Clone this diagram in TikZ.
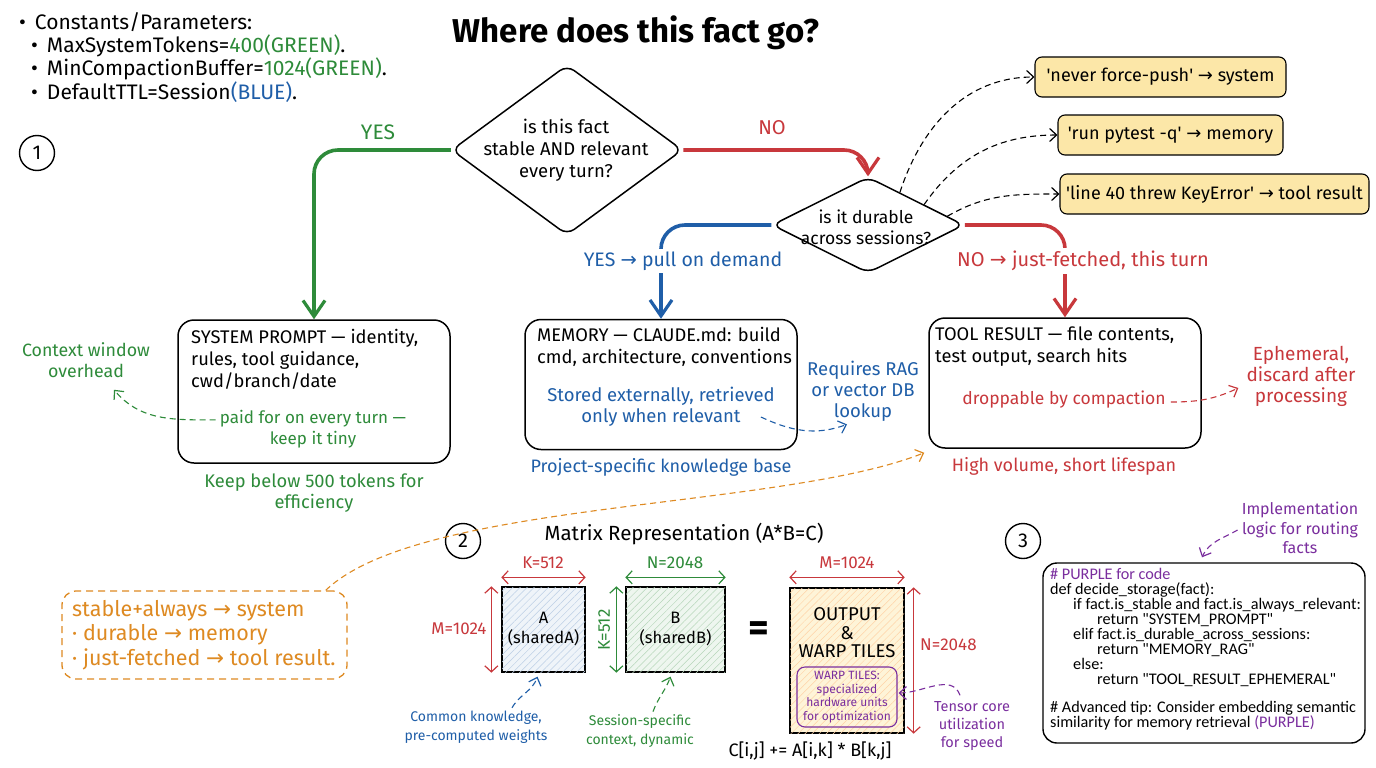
\documentclass[tikz,border=0pt]{standalone}
\usepackage{fontspec}
\setmainfont{Fira Sans}
\newfontfamily\codefont{Carlito}
\newfontfamily\symfont{DejaVu Sans}
\newcommand\rarr{{\symfont\char"2192}}
\newcommand\sq{\textquotesingle}
\usetikzlibrary{shapes.geometric,arrows.meta,patterns.meta,calc}
\definecolor{cgreen}{HTML}{2E8B3A}
\definecolor{cred}{HTML}{C8383C}
\definecolor{cblue}{HTML}{1F5EA8}
\definecolor{corange}{HTML}{DE8A22}
\definecolor{cpurple}{HTML}{7A2E9E}
\definecolor{cyellow}{HTML}{FCE7A8}
\begin{document}
\begin{tikzpicture}[x=1pt,y=-1pt,
  every node/.style={inner sep=0pt},
  txt/.style={align=center, font=\fontsize{17}{21}\selectfont},
  smalltxt/.style={align=center, font=\fontsize{14}{18.5}\selectfont},
  boxtxt/.style={align=left, anchor=north west, font=\fontsize{18.3}{21.8}\selectfont},
  bigbox/.style={draw, line width=1.5pt, rounded corners=16pt, minimum width=272pt, minimum height=130pt},
  ybox/.style={draw, fill=cyellow, line width=1.1pt, rounded corners=7pt, minimum height=40pt, font=\fontsize{18}{20}\selectfont},
  dec/.style={draw, diamond, line width=1.5pt, rounded corners=9pt},
  bigarr/.style={line width=3.6pt, rounded corners=24pt, -{Straight Barb[length=16pt,width=22pt,line width=3.2pt]}},
  dasharr/.style={line width=1.1pt, dash pattern=on 6pt off 4pt, -{Straight Barb[length=7pt,width=13pt,line width=1.2pt]}},
  dimarr/.style={line width=1.2pt, {Straight Barb[length=6pt,width=13pt]}-{Straight Barb[length=6pt,width=13pt]}},
  numc/.style={draw, circle, line width=1.4pt, minimum size=35pt, font=\fontsize{20}{20}\selectfont},
  mat/.style={draw, line width=1.3pt, align=center, font=\fontsize{16.5}{20}\selectfont},
  dimlbl/.style={font=\fontsize{17}{19}\selectfont},
]
\fill[white] (0,0) rectangle (1376,768);
\useasboundingbox (0,0) rectangle (1376,768);

% ---- constants list
\node[anchor=west, font=\fontsize{21}{23}\selectfont] (cbul) at (19,22) {\textbullet\hspace{9pt}Constants/Parameters:};
\node[anchor=west, font=\fontsize{21}{23}\selectfont] (c1) at (31,46) {\textbullet\hspace{9pt}MaxSystemTokens=\textcolor{cgreen}{400(GREEN)}.};
\node[anchor=west, font=\fontsize{21}{23}\selectfont] (c2) at (31,69) {\textbullet\hspace{9pt}MinCompactionBuffer=\textcolor{cgreen}{1024(GREEN)}.};
\node[anchor=west, font=\fontsize{21}{23}\selectfont] (c3) at (31,92) {\textbullet\hspace{9pt}DefaultTTL=Session\textcolor{cblue}{(BLUE)}.};

% ---- title
\node[font=\bfseries\fontsize{33}{36}\selectfont] (title) at (636,33) {Where does this fact go?};

% ---- section numbers
\node[numc] (n1) at (37,153) {1};
\node[numc] (n2) at (463,541) {2};
\node[numc] (n3) at (1023,541) {3};

% ---- decisions
\node[dec, minimum width=231pt, minimum height=170pt] (d1) at (567,150) {};
\node[txt, font=\fontsize{18.5}{22}\selectfont] (d1t) at (566,150) {is this fact\\stable AND relevant\\every turn?};
\node[dec, minimum width=192pt, minimum height=96pt] (d2) at (868,225) {};
\node[txt, font=\fontsize{17.5}{21}\selectfont] (d2t) at (866,227) {is it durable\\across sessions?};

% ---- boxes
\node[bigbox, minimum height=143pt] (sys) at (314,391.5) {};
\node[boxtxt] (syst) at (191,329) {SYSTEM PROMPT — identity,\\rules, tool guidance,\\cwd/branch/date};
\node[txt, text=cgreen] (paid) at (313,429) {paid for on every turn —\\keep it tiny};
\node[txt, text=cgreen, font=\fontsize{17.8}{21}\selectfont] (ctx) at (86,360) {Context window\\overhead};
\node[txt, text=cgreen, font=\fontsize{18.3}{21}\selectfont] (keep) at (314,493) {Keep below 500 tokens for\\efficiency};

\node[bigbox] (mem) at (661,384.5) {};
\node[boxtxt] (memt) at (537,327) {MEMORY — CLAUDE.md: build\\cmd, architecture, conventions};
\node[txt, text=cblue, font=\fontsize{18.5}{21}\selectfont] (memst) at (661,407) {Stored externally, retrieved\\only when relevant};
\node[txt, text=cblue, font=\fontsize{18}{21}\selectfont] (proj) at (661,467) {Project-specific knowledge base};
\node[txt, text=cblue, font=\fontsize{18.5}{21}\selectfont] (rag) at (863,391) {Requires RAG\\or vector DB\\lookup};

\node[bigbox] (tool) at (1065,383) {};
\node[boxtxt] (toolt) at (935,327) {TOOL RESULT — file contents,\\test output, search hits};
\node[txt, text=cred, font=\fontsize{17.5}{21}\selectfont] (drop) at (1064,400) {droppable by compaction};
\node[txt, text=cred, font=\fontsize{19}{21}\selectfont] (eph) at (1301,376) {Ephemeral,\\discard after\\processing};
\node[txt, text=cred, font=\fontsize{18}{21}\selectfont] (high) at (1064,466) {High volume, short lifespan};

% ---- yellow examples
\node[ybox, minimum width=251pt] (y1) at (1160.5,77) {\sq never force-push\sq\ \rarr\ system};
\node[ybox, minimum width=225pt] (y2) at (1170.5,135) {\sq run pytest -q\sq\ \rarr\ memory};
\node[ybox, minimum width=309pt] (y3) at (1214.5,194) {\sq line 40 threw KeyError\sq\ \rarr\ tool result};

\coordinate (p1) at ($(d2.north)!0.33!(d2.east)$);
\coordinate (p2) at ($(d2.north)!0.58!(d2.east)$);
\coordinate (p3) at ($(d2.north)!0.82!(d2.east)$);
\draw[dasharr] (p1) to[out=72,in=180] (y1.west);
\draw[dasharr] (p2) to[out=55,in=180] (y2.west);
\draw[dasharr] (p3) to[out=30,in=180] (y3.west);

% ---- main arrows
\draw[bigarr, cgreen] (d1.west) -| (sys.north);
\node[txt, text=cgreen, font=\fontsize{21}{22}\selectfont] (yes1) at (378,132) {YES};
\draw[bigarr, cred] (d1.east) -| (d2.north);
\node[txt, text=cred, font=\fontsize{20}{22}\selectfont] (no1) at (772,128) {NO};
\draw[bigarr, cblue] (d2.west) -| (mem.north);
\node[txt, text=cblue, fill=white, inner xsep=2pt, inner ysep=3pt, font=\fontsize{19.5}{21}\selectfont] (yes2) at (683,261) {YES \rarr\ pull on demand};
\draw[bigarr, cred] (d2.east) -| (tool.north);
\node[txt, text=cred, fill=white, inner xsep=2pt, inner ysep=3pt, font=\fontsize{20}{21}\selectfont] (no2) at (1083,261) {NO \rarr\ just-fetched, this turn};

% ---- annotation arrows
\draw[dasharr, cgreen] ($(paid.north west)+(-4,10)$) to[out=180,in=-50] ($(ctx.south)+(28,12)$);
\draw[dasharr, cblue] ($(memst.east)+(-14,10)$) to[out=-25,in=200] ($(rag.south)+(-16,3)$);
\draw[dasharr, cred] ($(drop.east)+(5,2)$) to[out=0,in=205] ($(eph.west)+(-8,12)$);

% ---- orange summary
\node[draw=corange, line width=1.3pt, dash pattern=on 7pt off 5pt, rounded corners=14pt, minimum width=285pt, minimum height=88pt] (orb) at (204.5,635) {};
\node[anchor=west, align=left, text=corange, font=\fontsize{21.5}{24.5}\selectfont] (ortxt) at (72,635) {stable+always \rarr\ system\\· durable \rarr\ memory\\· just-fetched \rarr\ tool result.};
\draw[dasharr, corange] ($(orb.north east)+(-22,0)$) .. controls (420,500) and (780,510) .. ($(tool.south west)+(-4,4)$);

% ---- matrix section
\node[font=\fontsize{20.5}{22}\selectfont] (mtitle) at (684,534) {Matrix Representation (A*B=C)};
\node[mat, fill=cblue!7, minimum width=83pt, minimum height=85pt,
  postaction={pattern={Lines[angle=45,distance=5pt,line width=0.5pt]}, pattern color=cblue!30}] (A) at (543.5,629.5) {A\\(sharedA)};
\node[mat, fill=cgreen!8, minimum width=99pt, minimum height=85pt,
  postaction={pattern={Lines[angle=45,distance=5pt,line width=0.5pt]}, pattern color=cgreen!35}] (B) at (675.5,629.5) {B\\(sharedB)};
\node[mat, fill=cyellow!45, minimum width=114pt, minimum height=145pt,
  postaction={pattern={Lines[angle=45,distance=5pt,line width=0.5pt]}, pattern color=orange!35}] (C) at (847,660.5) {};
\node[align=center, font=\fontsize{18.5}{18.5}\selectfont] (outt) at (847,633) {OUTPUT\\\&\\WARP TILES};
\node[draw=cpurple, line width=1.1pt, rounded corners=8pt, minimum width=100pt, minimum height=60pt] (warp) at (847,697) {};
\node[align=center, text=cpurple, font=\fontsize{12}{13.8}\selectfont] (warpt) at (847,697) {WARP TILES:\\specialized\\hardware units\\for optimization};
\node[font=\bfseries\fontsize{40}{40}\selectfont] (eq) at (759,632) {=};

\draw[dimarr, cred] ($(A.north west)+(0,-9)$) -- ($(A.north east)+(0,-9)$);
\node[dimlbl, text=cred] (Ak) at (543,563) {K=512};
\draw[dimarr, cred] ($(A.north west)+(-10,0)$) -- ($(A.south west)+(-10,0)$);
\node[dimlbl, text=cred] (Am) at (459,629) {M=1024};
\draw[dimarr, cgreen] ($(B.north west)+(0,-9)$) -- ($(B.north east)+(0,-9)$);
\node[dimlbl, text=cgreen] (Bn) at (675,563) {N=2048};
\draw[dimarr, cgreen] ($(B.north west)+(-9,0)$) -- ($(B.south west)+(-9,0)$);
\node[dimlbl, text=cgreen, rotate=90] (Bk) at (604,630) {K=512};
\draw[dimarr, cred] ($(C.north west)+(0,-10)$) -- ($(C.north east)+(0,-10)$);
\node[dimlbl, text=cred] (Cm) at (847,563) {M=1024};
\draw[dimarr, cred] ($(C.north east)+(9,0)$) -- ($(C.south east)+(9,0)$);
\node[dimlbl, text=cred, anchor=west] (Cn) at (920,645) {N=2048};

\node[font=\fontsize{18}{19}\selectfont] (form) at (810,751) {C[i,j] += A[i,k] * B[k,j]};

\node[smalltxt, text=cblue] (ck) at (476,727) {Common knowledge,\\pre-computed weights};
\node[smalltxt, text=cgreen] (ss) at (640,731) {Session-specific\\context, dynamic};
\node[smalltxt, text=cpurple, font=\fontsize{14.5}{18}\selectfont] (tensor) at (972,726) {Tensor core\\utilization\\for speed};
\draw[dasharr, cblue] ($(ck.north)+(36,-3)$) to[out=60,in=-110] ($(A.south)+(-6,4)$);
\draw[dasharr, cgreen] ($(ss.north)+(13,-3)$) to[out=70,in=-110] ($(B.south)+(-5,4)$);
\draw[dasharr, cpurple] ($(tensor.north)+(-12,-6)$) to[out=110,in=0] ($(warp.east)+(1,-4)$);

% ---- code
\node[txt, text=cpurple, font=\fontsize{16}{19.5}\selectfont] (impl) at (1300,528) {Implementation\\logic for routing\\facts};
\node[draw, line width=1.4pt, rounded corners=14pt, minimum width=322pt, minimum height=180pt] (code) at (1204,653) {};
\node[anchor=north west, align=left, font=\codefont\fontsize{16.2}{15}\selectfont] (codet) at (1050,568) {\textcolor{cpurple}{\# PURPLE for code}\\
def decide\_storage(fact):\\
\hspace*{23pt}if fact.is\_stable and fact.is\_always\_relevant:\\
\hspace*{47pt}return "SYSTEM\_PROMPT"\\
\hspace*{23pt}elif fact.is\_durable\_across\_sessions:\\
\hspace*{47pt}return "MEMORY\_RAG"\\
\hspace*{23pt}else:\\
\hspace*{47pt}return "TOOL\_RESULT\_EPHEMERAL"\\[13pt]
\# Advanced tip: Consider embedding semantic\\
similarity for memory retrieval \textcolor{cpurple}{(PURPLE)}};
\draw[dasharr, cpurple] ($(impl.west)+(-4,2)$) to[out=210,in=65] ($(code.north)+(-2,-5)$);
\end{tikzpicture}
\end{document}
